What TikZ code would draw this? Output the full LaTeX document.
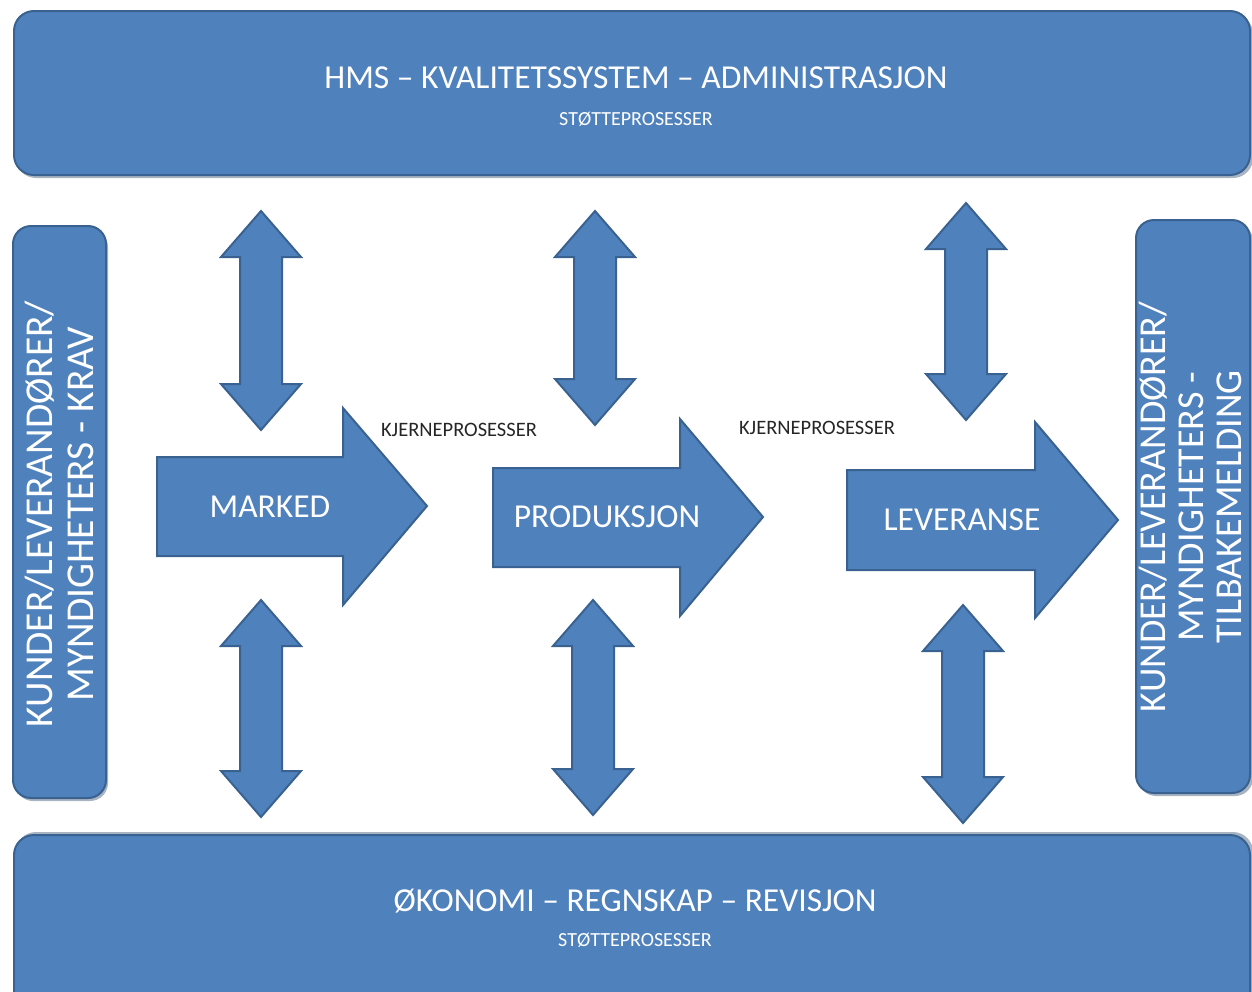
\documentclass[tikz,border=0pt]{standalone}
\usepackage{fontspec}
\setmainfont{Carlito}
\definecolor{boxblue}{HTML}{4F81BD}
\definecolor{edgeblue}{HTML}{3A6291}
\definecolor{shadowgray}{HTML}{A9B4C2}
\begin{document}
\begin{tikzpicture}[x=1pt,y=-1pt,
  blk/.style={fill=boxblue, draw=edgeblue, line width=2pt, line join=miter},
  rbox/.style={blk, rounded corners=20pt, inner sep=0pt},
  big/.style={text=white, font=\fontsize{33.5}{36}\selectfont, inner sep=0pt},
  small/.style={text=white, font=\fontsize{20}{22}\selectfont, inner sep=0pt},
  core/.style={text=black!85, font=\fontsize{20.5}{22}\selectfont, inner sep=0pt},
  side/.style={text=white, font=\fontsize{39.5}{41}\selectfont, rotate=90, align=center, inner sep=0pt},
  side3/.style={side, font=\fontsize{38}{38}\selectfont}]
\useasboundingbox (0,0) rectangle (1252,991);
\clip (0,0) rectangle (1252,991);

% support boxes
\fill[shadowgray, rounded corners=20pt] (16,14) rectangle (1253,178);
\node[rbox, minimum width=1236pt, minimum height=164pt] (top) at (632,93) {};
\node[big] (hms) at (636,78) {HMS – KVALITETSSYSTEM – ADMINISTRASJON};
\node[small] (st1) at (636,119) {STØTTEPROSESSER};

\fill[shadowgray, rounded corners=20pt] (16,832) rectangle (1253,1030);
\node[rbox, minimum width=1236pt, minimum height=190pt] (bot) at (632,930) {};
\node[big] (oko) at (635,901) {ØKONOMI – REGNSKAP – REVISJON};
\node[small] (st2) at (635,940) {STØTTEPROSESSER};

% side boxes
\fill[shadowgray, rounded corners=18pt] (15,229) rectangle (108,801);
\node[rbox, rounded corners=18pt, minimum width=93pt, minimum height=572pt] (left) at (59.5,512) {};
\node[side] (lt) at (59,514) {KUNDER/LEVERANDØRER/\\MYNDIGHETERS - KRAV};

\fill[shadowgray, rounded corners=18pt] (1138,223) rectangle (1253,796);
\node[rbox, rounded corners=18pt, minimum width=114pt, minimum height=573pt] (right) at (1193,506.5) {};
\node[side3] (rt) at (1190,507) {KUNDER/LEVERANDØRER/\\MYNDIGHETERS -\\TILBAKEMELDING};

% core process arrows
\path[blk] (157,457) -- (343,457) -- (343,408) -- (427,506) -- (343,605) -- (343,556) -- (157,556) -- cycle;
\node[big] (marked) at (270,507) {MARKED};
\path[blk] (493,468) -- (680,468) -- (680,419) -- (763,517) -- (680,616) -- (680,567) -- (493,567) -- cycle;
\node[big] (prod) at (607,517) {PRODUKSJON};
\path[blk] (847,470) -- (1035,470) -- (1035,422) -- (1118,520) -- (1035,618) -- (1035,570) -- (847,570) -- cycle;
\node[big] (lev) at (962,520) {LEVERANSE};

\node[core] (k1) at (459,430) {KJERNEPROSESSER};
\node[core] (k2) at (817,428) {KJERNEPROSESSER};

% vertical double arrows
\foreach \cx/\ya/\yb/\nm in {261/211/430/a1, 595/211/425/a2, 966/203/420/a3, 261/600/817/a4, 593/600/815/a5, 963/605/823/a6}{
  \path[blk] (\cx,\ya) -- (\cx+40,\ya+46) -- (\cx+21,\ya+46) -- (\cx+21,\yb-46) -- (\cx+40,\yb-46) -- (\cx,\yb) -- (\cx-40,\yb-46) -- (\cx-21,\yb-46) -- (\cx-21,\ya+46) -- (\cx-40,\ya+46) -- cycle;
  \coordinate (\nm) at (\cx,\ya);
}
\end{tikzpicture}
\end{document}
